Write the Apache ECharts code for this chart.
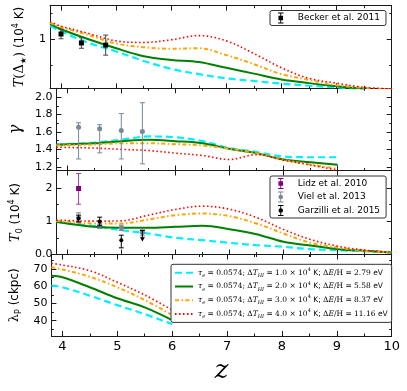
<!DOCTYPE html>
<html><head><meta charset="utf-8">
<script src="https://cdn.jsdelivr.net/npm/echarts@6/dist/echarts.min.js"></script>
<style>html,body{margin:0;padding:0;background:#fff}#c{width:407px;height:391px}</style>
</head><body><div id="c"></div>
<script>
// ---------- data ----------
const zGrid = [3.8, 4.0, 4.5, 5.0, 5.5, 6.0, 6.5, 7.0, 7.5, 8.0, 8.5, 9.0, 9.5, 10.0];
// panel 1: T(Delta*) (1e4 K)
const tStar_cyan   = [1.25, 1.15, 0.93, 0.77, 0.59, 0.44, 0.34, 0.26, 0.21, 0.16, 0.12, 0.09, 0.05, null];
const tStar_green  = [1.29, 1.19, 1.00, 0.83, 0.68, 0.61, 0.57, 0.46, 0.35, 0.24, 0.17, 0.11, 0.06, null];
const tStar_orange = [1.31, 1.23, 1.08, 0.92, 0.85, 0.82, 0.83, 0.70, 0.53, 0.34, 0.23, 0.13, 0.08, 0.05];
const tStar_red    = [1.33, 1.25, 1.11, 0.97, 0.94, 0.99, 1.07, 0.97, 0.73, 0.46, 0.26, 0.17, 0.09, 0.06];
// panel 2: gamma
const gamma_cyan   = [1.453, 1.46, 1.477, 1.51, 1.548, 1.54, 1.494, 1.415, 1.37, 1.318, 1.31, 1.31, null, null];
const gamma_green  = [1.453, 1.458, 1.47, 1.494, 1.51, 1.494, 1.47, 1.407, 1.357, 1.284, 1.253, 1.223, null, null];
const gamma_orange = [1.445, 1.448, 1.456, 1.47, 1.47, 1.46, 1.445, 1.407, 1.357, 1.28, 1.226, 1.177, null, null];
const gamma_red    = [1.425, 1.422, 1.415, 1.40, 1.387, 1.357, 1.33, 1.284, 1.34, 1.277, 1.22, 1.16, null, null];
// panel 3: T0 (1e4 K)
const t0_cyan   = [0.98, 0.93, 0.85, 0.73, 0.63, 0.50, 0.43, 0.35, 0.28, 0.23, 0.16, 0.13, 0.10, 0.06];
const t0_green  = [0.98, 0.93, 0.83, 0.80, 0.80, 0.83, 0.86, 0.76, 0.61, 0.38, 0.27, 0.16, 0.11, 0.06];
const t0_orange = [1.01, 0.98, 0.93, 0.93, 1.05, 1.18, 1.23, 1.15, 0.93, 0.63, 0.35, 0.21, 0.11, 0.07];
const t0_red    = [1.03, 1.02, 1.00, 1.01, 1.18, 1.35, 1.45, 1.36, 1.11, 0.75, 0.45, 0.25, 0.13, 0.07];
// panel 4: lambda_P (ckpc)
const lam_cyan   = [60.3, 59.4, 54.5, 49.0, 43.8, 38.0, null, null, null, null, null, null, null, null];
const lam_green  = [66.1, 65.2, 59.4, 53.0, 47.7, 40.3, null, null, null, null, null, null, null, null];
const lam_orange = [71.0, 69.7, 65.5, 59.4, 52.0, 43.3, null, null, null, null, null, null, null, null];
const lam_red    = [73.3, 72.3, 69.0, 62.3, 54.9, 46.2, null, null, null, null, null, null, null, null];
// observations: [z, value, low, high]
const becker = [[4.0, 1.10, 1.01, 1.19], [4.37, 0.93, 0.83, 1.03], [4.81, 0.89, 0.70, 1.08]];
const vielGamma = [[4.21, 1.655, 1.29, 1.705], [4.6, 1.636, 1.36, 1.683], [5.0, 1.617, 1.29, 1.81], [5.39, 1.605, 1.234, 1.935]];
const lidz = [[4.21, 1.98, 1.51, 2.43]];
const vielT0 = [[4.21, 1.10, 0.95, 1.25], [4.6, 0.88, 0.78, 0.98], [5.0, 0.80, 0.72, 0.88], [5.39, 0.66, 0.56, 0.76]];
const garzilli = [[4.21, 1.08, 0.98, 1.18], [4.6, 0.99, 0.86, 1.12], [5.0, 0.43, 0.20, 0.58]];
const garzilliUpper = [[5.39, 0.72, 0.40]];
// ticks
const zMajor = [4, 5, 6, 7, 8, 9, 10];
const zMinor = [4.5, 5.5, 6.5, 7.5, 8.5, 9.5];
const yTicks = [
  {min: 0.072, max: 1.636, major: [1], minor: [0.5, 1.5]},
  {min: 1.158, max: 2.1, major: [1.2, 1.4, 1.6, 1.8, 2.0], minor: [1.3, 1.5, 1.7, 1.9]},
  {min: 0, max: 2.52, major: [0, 1, 2], minor: [0.5, 1.5]},
  {min: 31.1, max: 78.4, major: [40, 50, 60, 70], minor: [35, 45, 55, 65, 75]}
];
const yLabelFmt = [v => '1', v => v.toFixed(1), v => (v === 0 ? '0.0' : String(v)), v => String(v)];
const lineNames = ['L1', 'L2', 'L3', 'L4'];
const lineLegend = {
  L1: ['1.0', '2.79'], L2: ['2.0', '5.58'], L3: ['3.0', '8.37'], L4: ['4.0', '11.16']
};

// ---------- layout ----------
const frame = '#1a1a1a';
const gridsPos = [{top: 5.7, h: 82.6}, {top: 88.3, h: 82.2}, {top: 170.5, h: 84}, {top: 254.5, h: 81.5}];
const grid = gridsPos.map(p => ({left: 50, width: 341.7, top: p.top, height: p.h}));

const nameRich = {
  it: {fontFamily: 'DejaVu Serif', fontStyle: 'italic', fontSize: 13, lineHeight: 16, color: '#000'},
  n: {fontFamily: 'DejaVu Serif', fontSize: 13, lineHeight: 16, color: '#000'},
  sb: {fontFamily: 'DejaVu Sans', fontSize: 8, lineHeight: 8, verticalAlign: 'bottom', color: '#000'},
  sa: {fontFamily: 'DejaVu Sans', fontSize: 12, lineHeight: 16, color: '#000'},
  sp: {fontFamily: 'DejaVu Sans', fontSize: 8, lineHeight: 8, verticalAlign: 'top', color: '#000'},
  g: {fontFamily: 'DejaVu Serif', fontStyle: 'italic', fontSize: 16, lineHeight: 18, color: '#000'}
};
const yNames = [
  '{it|T}{n|(Δ}{sb|★}{n|)}{sa| (10}{sp|4}{sa| K)}',
  '{g|γ}',
  '{it|T}{sb|0}{sa| (10}{sp|4}{sa| K)}',
  '{n|λ}{sb|P}{sa| (ckpc)}'
];
const yNameGap = [9, 15, 10, 12];

const xAxis = [], yAxis = [];
for (let g = 0; g < 4; g++) {
  const xb = {type: 'value', gridIndex: g, min: 3.8, max: 10, splitLine: {show: false},
    axisLine: {show: true, onZero: false, lineStyle: {color: frame, width: 1}},
    axisLabel: {show: false}};
  const majT = {show: true, inside: true, length: 5, customValues: zMajor, lineStyle: {color: frame, width: 1}};
  const minT = {show: true, inside: true, length: 2.5, customValues: zMinor, lineStyle: {color: frame, width: 1}};
  xAxis.push(Object.assign({}, xb, {position: 'bottom', axisTick: majT,
    axisLabel: {show: g === 3, customValues: zMajor, fontSize: 13, fontFamily: 'DejaVu Sans', color: '#000', margin: 4},
    name: g === 3 ? 'z' : '', nameLocation: 'middle', nameGap: 22,
    nameTextStyle: {fontFamily: 'DejaVu Serif', fontStyle: 'italic', fontSize: 26, color: '#000'}}));
  xAxis.push(Object.assign({}, xb, {position: 'bottom', axisLine: {show: false}, axisTick: minT}));
  xAxis.push(Object.assign({}, xb, {position: 'top', axisTick: majT}));
  xAxis.push(Object.assign({}, xb, {position: 'top', axisLine: {show: false}, axisTick: minT}));

  const yt = yTicks[g];
  const yb = {type: 'value', gridIndex: g, min: yt.min, max: yt.max, splitLine: {show: false},
    axisLine: {show: true, onZero: false, lineStyle: {color: frame, width: 1}}, axisLabel: {show: false}};
  const yMajT = {show: true, inside: true, length: 5, customValues: yt.major, lineStyle: {color: frame, width: 1}};
  const yMinT = {show: true, inside: true, length: 2.5, customValues: yt.minor, lineStyle: {color: frame, width: 1}};
  yAxis.push(Object.assign({}, yb, {position: 'left', axisTick: yMajT,
    axisLabel: {show: true, customValues: yt.major, formatter: yLabelFmt[g], fontSize: 11, fontFamily: 'DejaVu Sans', color: '#000', margin: 4},
    name: yNames[g], nameLocation: 'middle', nameRotate: 90, nameGap: yNameGap[g],
    nameTextStyle: {rich: nameRich}}));
  yAxis.push(Object.assign({}, yb, {position: 'left', axisLine: {show: false}, axisTick: yMinT}));
  yAxis.push(Object.assign({}, yb, {position: 'right', axisTick: yMajT}));
  yAxis.push(Object.assign({}, yb, {position: 'right', axisLine: {show: false}, axisTick: yMinT}));
}

// ---------- series ----------
const lineStyles = {
  L1: {color: '#00f0ff', width: 2.2, type: [7, 4]},
  L2: {color: '#008000', width: 2, type: 'solid'},
  L3: {color: '#ffa500', width: 2, type: [4, 2.5, 1.5, 2.5]},
  L4: {color: '#ff0000', width: 1.6, type: [1.5, 2.5]}
};
const panels = [
  [tStar_cyan, tStar_green, tStar_orange, tStar_red],
  [gamma_cyan, gamma_green, gamma_orange, gamma_red],
  [t0_cyan, t0_green, t0_orange, t0_red],
  [lam_cyan, lam_green, lam_orange, lam_red]
];
const series = [];
panels.forEach((arrs, g) => {
  arrs.forEach((vals, i) => {
    const nm = lineNames[i];
    series.push({
      type: 'line', name: nm, xAxisIndex: g * 4, yAxisIndex: g * 4,
      data: zGrid.map((z, k) => [z, vals[k]]).filter(d => d[1] != null),
      smooth: 0.35, symbol: 'none', showSymbol: false, clip: true,
      lineStyle: lineStyles[nm], itemStyle: {color: lineStyles[nm].color},
      z: 2 + i, animation: false
    });
  });
});

function errSeries(name, data, g, color, barColor, marker, size) {
  return {
    type: 'custom', name: name, xAxisIndex: g * 4, yAxisIndex: g * 4, data: data,
    itemStyle: {color: color}, z: 10, animation: false,
    encode: {x: 0, y: 1},
    renderItem: function (params, api) {
      const x = api.value(0), v = api.value(1), lo = api.value(2), hi = api.value(3);
      const p = api.coord([x, v]), pl = api.coord([x, lo]), ph = api.coord([x, hi]);
      const st = {stroke: barColor, lineWidth: 1};
      const ch = [
        {type: 'line', shape: {x1: p[0], y1: pl[1], x2: p[0], y2: ph[1]}, style: st},
        {type: 'line', shape: {x1: p[0] - 2.5, y1: pl[1], x2: p[0] + 2.5, y2: pl[1]}, style: st},
        {type: 'line', shape: {x1: p[0] - 2.5, y1: ph[1], x2: p[0] + 2.5, y2: ph[1]}, style: st}
      ];
      if (marker === 'rect') ch.push({type: 'rect', shape: {x: p[0] - size / 2, y: p[1] - size / 2, width: size, height: size}, style: {fill: color}});
      else ch.push({type: 'circle', shape: {cx: p[0], cy: p[1], r: size / 2}, style: {fill: color}});
      return {type: 'group', children: ch};
    }
  };
}
series.push(errSeries('Becker et al. 2011', becker, 0, '#000', '#444', 'rect', 5));
series.push(errSeries('Viel et al. 2013', vielGamma, 1, '#778899', '#778899', 'circle', 5));
series.push(errSeries('Lidz et al. 2010', lidz, 2, '#800080', '#a040a0', 'rect', 5));
series.push(errSeries('Viel et al. 2013', vielT0, 2, '#778899', '#778899', 'circle', 5));
series.push(errSeries('Garzilli et al. 2015', garzilli, 2, '#000', '#000', 'circle', 4));
series.push({
  type: 'custom', name: 'Garzilli et al. 2015', xAxisIndex: 8, yAxisIndex: 8, data: garzilliUpper,
  itemStyle: {color: '#000'}, z: 11, animation: false, encode: {x: 0, y: 1},
  renderItem: function (params, api) {
    const x = api.value(0);
    const a = api.coord([x, api.value(1)]), b = api.coord([x, api.value(2)]);
    return {type: 'group', children: [
      {type: 'line', shape: {x1: a[0], y1: a[1], x2: b[0], y2: b[1]}, style: {stroke: '#000', lineWidth: 1}},
      {type: 'line', shape: {x1: a[0] - 2.5, y1: a[1], x2: a[0] + 2.5, y2: a[1]}, style: {stroke: '#000', lineWidth: 1}},
      {type: 'polygon', shape: {points: [[b[0] - 2.5, b[1] - 4], [b[0] + 2.5, b[1] - 4], [b[0], b[1]]]}, style: {fill: '#000'}}
    ]};
  }
});

const iconSq = 'path://M2,0H8V1H2ZM4.5,0H5.5V12H4.5ZM2,11H8V12H2ZM2.5,3.5H7.5V8.5H2.5Z';
const iconCi = 'path://M2,0H8V1H2ZM4.5,0H5.5V12H4.5ZM2,11H8V12H2ZM7.5,6A2.5,2.5,0,1,1,2.5,6A2.5,2.5,0,1,1,7.5,6Z';
const obsText = {fontFamily: 'DejaVu Sans', fontSize: 9, color: '#000', padding: [0, 0, 0, 7]};

const legendRich = {
  n: {fontFamily: 'DejaVu Serif', fontSize: 7.5, lineHeight: 11, color: '#000'},
  m: {fontFamily: 'DejaVu Serif', fontStyle: 'italic', fontSize: 7.5, lineHeight: 11, color: '#000'},
  sb: {fontFamily: 'DejaVu Serif', fontStyle: 'italic', fontSize: 5, lineHeight: 7, verticalAlign: 'bottom', color: '#000'},
  sp: {fontFamily: 'DejaVu Serif', fontSize: 5, lineHeight: 7, verticalAlign: 'top', color: '#000'},
  s: {fontFamily: 'DejaVu Sans', fontSize: 7.5, lineHeight: 11, color: '#000'}
};

const option = {
  animation: false,
  backgroundColor: '#fff',
  grid: grid,
  xAxis: xAxis,
  yAxis: yAxis,
  legend: [
    {data: [{name: 'Becker et al. 2011', icon: iconSq}], left: 270, top: 10.5, orient: 'vertical',
      itemWidth: 10, itemHeight: 11, padding: [2, 6, 2, 8], backgroundColor: '#fff',
      borderColor: '#333', borderWidth: 1, borderRadius: 2, textStyle: obsText, selectedMode: false, z: 20},
    {data: [{name: 'Lidz et al. 2010', icon: iconSq}, {name: 'Viel et al. 2013', icon: iconCi}, {name: 'Garzilli et al. 2015', icon: iconCi}],
      left: 270, top: 176, orient: 'vertical', itemGap: 2.5,
      itemWidth: 10, itemHeight: 11, padding: [2, 6, 2, 8], backgroundColor: '#fff',
      borderColor: '#333', borderWidth: 1, borderRadius: 2, textStyle: obsText, selectedMode: false, z: 20},
    {data: lineNames, left: 171, top: 264.3, orient: 'vertical', itemGap: 2.7,
      itemWidth: 18, itemHeight: 8, padding: [3, 4, 3, 3], backgroundColor: '#fff',
      borderColor: '#333', borderWidth: 1, borderRadius: 2, selectedMode: false, z: 20,
      itemStyle: {opacity: 0},
      textStyle: {rich: legendRich, fontSize: 7.5, lineHeight: 11},
      formatter: function (nm) {
        const d = lineLegend[nm];
        return '{m|τ}{sb|e}{n| = 0.0574; Δ}{m|T}{sb|HI}{n| = ' + d[0] + ' × 10}{sp|4}{s| K; }{n|Δ}{m|E}{n|/H = ' + d[1] + ' }{s|eV}';
      }}
  ],
  series: series
};
const chart = echarts.init(document.getElementById('c'), null, {renderer: 'canvas'});
chart.setOption(option);
</script></body></html>
